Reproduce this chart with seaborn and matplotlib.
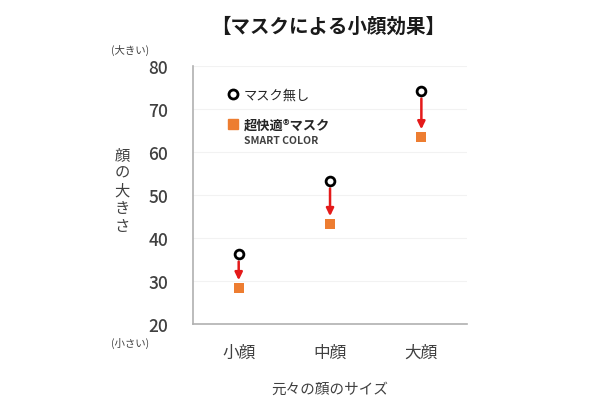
import pandas as pd
import matplotlib.pyplot as plt
import seaborn as sns
from matplotlib.lines import Line2D

# chart values
categories = ['小顔', '中顔', '大顔']
no_mask = [36.3, 53.3, 74.2]
smart_color = [28.4, 43.3, 63.5]
y_ticks = [20, 30, 40, 50, 60, 70, 80]

df = pd.DataFrame({'size': categories, 'no_mask': no_mask, 'smart_color': smart_color})

sns.set_style('white')
plt.rcParams['font.family'] = ['Noto Sans CJK JP', 'DejaVu Sans']

text_col = '#404040'
orange = '#ED7D31'

fig = plt.figure(figsize=(6, 4.1), dpi=100)
ax = fig.add_axes([0.3217, 0.2073, 0.4567, 0.6293])

# points
sns.scatterplot(data=df, x='size', y='no_mask', ax=ax, marker='o', s=40,
                facecolor='white', edgecolor='black', linewidth=2, zorder=4)
sns.scatterplot(data=df, x='size', y='smart_color', ax=ax, marker='s', s=50,
                color=orange, edgecolor=orange, linewidth=0, zorder=4)

# red arrows from no-mask value down to mask value
for i, (a, b) in enumerate(zip(no_mask, smart_color)):
    ax.annotate('', xy=(i, b), xytext=(i, a),
                arrowprops=dict(arrowstyle='-|>,head_width=0.22,head_length=0.45',
                                color='#E41A1A', lw=1.8,
                                shrinkA=5.5, shrinkB=5.5),
                zorder=3)

ax.set_xlim(-0.5, 2.5)
ax.set_ylim(20, 80)
ax.set_yticks(y_ticks)
ax.yaxis.grid(True, color='#f2f2f2', lw=0.8)
ax.set_axisbelow(True)

for s in ['top', 'right']:
    ax.spines[s].set_visible(False)
ax.spines['left'].set_color('#b0b0b0')
ax.spines['bottom'].set_color('#b0b0b0')
ax.spines['left'].set_linewidth(1.2)
ax.spines['bottom'].set_linewidth(1.2)

ax.tick_params(axis='y', length=0, pad=18, labelsize=12.5, labelcolor=text_col)
ax.tick_params(axis='x', length=0, pad=14, labelsize=12, labelcolor=text_col)
for t in ax.get_yticklabels():
    t.set_fontweight('medium')

ax.set_xlabel('元々の顔のサイズ', fontsize=10.5, color=text_col)
ax.xaxis.set_label_coords(0.5, -0.225)
ax.set_ylabel('\n'.join('顔の大きさ'), rotation=0, fontsize=11, color=text_col,
              linespacing=1.05, ha='center', va='center')
ax.yaxis.set_label_coords(-0.259, 0.52)

ax.text(-0.23, 1.066, '(大きい)', transform=ax.transAxes, fontsize=7.5,
        color=text_col, ha='center', va='center')
ax.text(-0.23, -0.07, '(小さい)', transform=ax.transAxes, fontsize=7.5,
        color=text_col, ha='center', va='center')

# legend
handles = [
    Line2D([], [], marker='o', ls='', markersize=6.5, markerfacecolor='white',
           markeredgecolor='black', markeredgewidth=2),
    Line2D([], [], marker='s', ls='', markersize=6.5, color=orange),
]
leg = ax.legend(handles, ['マスク無し', '超快適®マスク'], loc='upper left',
                bbox_to_anchor=(0.075, 0.96), frameon=False, handletextpad=0.2,
                labelspacing=1.25, fontsize=9.5, handlelength=1.2)
for t in leg.get_texts():
    t.set_color('#262626')
leg.get_texts()[1].set_fontweight('bold')
ax.text(0.187, 0.713, 'SMART COLOR', transform=ax.transAxes, fontsize=7.5,
        fontweight='bold', color='#404040', ha='left', va='center')

fig.suptitle('【マスクによる小顔効果】', x=0.547, y=0.934, fontsize=14,
             fontweight='bold', color='#1a1a1a', va='center')

fig.savefig('out.png', dpi=100)
